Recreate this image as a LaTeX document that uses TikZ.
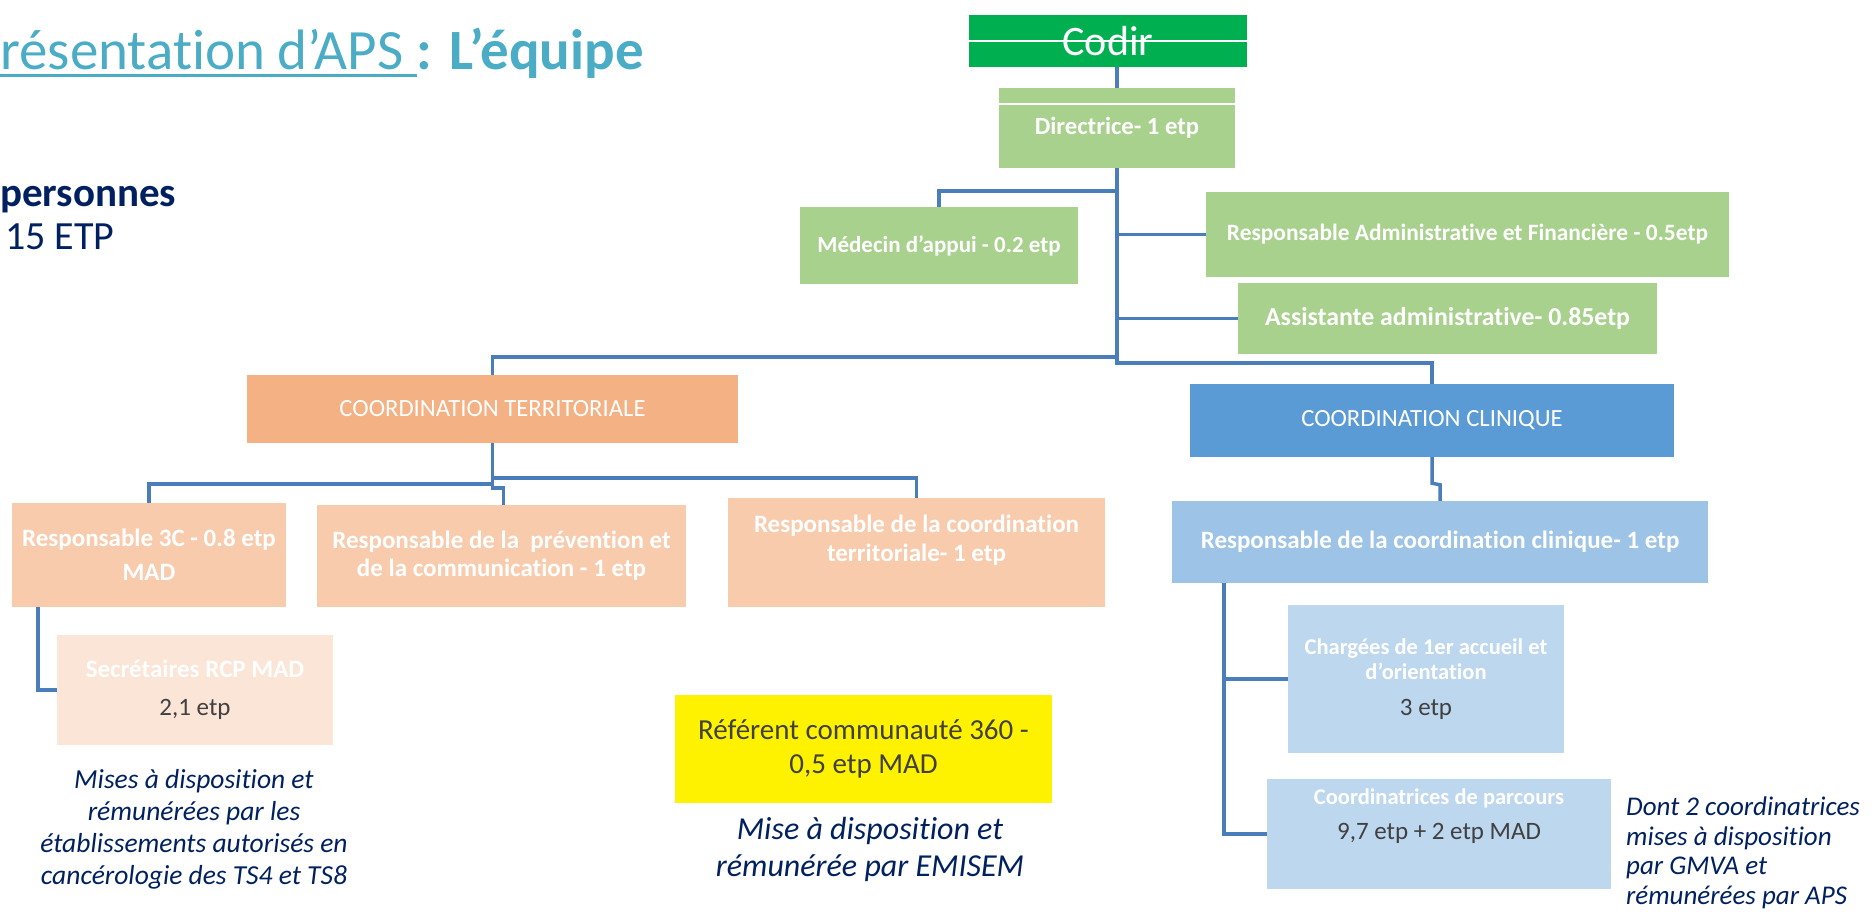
\documentclass[tikz,border=0pt]{standalone}
\usepackage{fontspec}
\setmainfont{Carlito}[Ligatures={NoCommon}]
\usetikzlibrary{calc}
\definecolor{codirgreen}{HTML}{00B050}
\definecolor{lgreen}{HTML}{A9D18E}
\definecolor{orange1}{HTML}{F4B183}
\definecolor{orange2}{HTML}{F8CBAD}
\definecolor{orange3}{HTML}{FBE5D6}
\definecolor{blue1}{HTML}{5B9BD5}
\definecolor{blue2}{HTML}{9DC3E6}
\definecolor{blue3}{HTML}{BDD7EE}
\definecolor{connblue}{HTML}{4A7EBB}
\definecolor{titleteal}{HTML}{4BACC6}
\definecolor{navy}{HTML}{002060}
\definecolor{darkgray}{HTML}{404040}
\newcommand{\myfs}[2]{\fontsize{#1}{#2}\selectfont}
\begin{document}
\begin{tikzpicture}[x=1pt,y=-1pt,
  box/.style={rectangle, draw=none, inner sep=0pt, align=center, text=white},
  gbox/.style={box, fill=lgreen, font=\myfs{23}{27}\bfseries},
  obox/.style={box, fill=orange2, font=\myfs{25}{30}\bfseries},
  bbox/.style={box, fill=blue3, font=\myfs{22.5}{25}\bfseries},
  conn/.style={draw=connblue, line width=3.5pt},
  note/.style={inner sep=0pt, text=navy, font=\myfs{27.5}{32}\itshape},
  dk/.style={text=darkgray}
]
\useasboundingbox (0,0) rectangle (1874,912);

% title
\node[anchor=base west, inner sep=0pt, text=titleteal, font=\myfs{57}{64}] (t1) at (0,70) {résentation d’APS\ \null};
\node[anchor=base west, inner sep=0pt, text=titleteal, font=\myfs{57}{64}\bfseries] (t2) at (t1.base east) {: L’équipe};
\draw[titleteal, line width=3pt] ([yshift=-6pt]t1.base west) -- ([yshift=-6pt]t1.base east);
\node[anchor=base west, inner sep=0pt, text=navy, font=\myfs{41}{48}\bfseries] (pers) at (0,207) {personnes};
\node[anchor=base west, inner sep=0pt, text=navy, font=\myfs{40}{48}] (etp) at (5,249) {15 ETP};

% boxes
\node[box, fill=codirgreen, minimum width=278, minimum height=52, font=\myfs{42}{48}] (codir) at (1108,41) {Codir};
\draw[white, line width=2.5pt] (codir.west) -- (codir.east);
\node[gbox, minimum width=236, minimum height=80, font=\myfs{24.7}{28}\bfseries] (dir) at (1117,128) {Directrice- 1 etp};
\draw[white, line width=2.5pt] ([yshift=-16pt]dir.north west) -- ([yshift=-16pt]dir.north east);
\node[gbox, minimum width=278, minimum height=77] (med) at (939,245.5) {Médecin d'appui - 0.2 etp};
\node[gbox, minimum width=523, minimum height=85, font=\myfs{23.4}{28}\bfseries] (raf) at (1467.5,234.5) {Responsable Administrative et Financière - 0.5etp};
\node[gbox, minimum width=419, minimum height=71, font=\myfs{25.8}{30}\bfseries] (asst) at (1447.5,318.5) {Assistante administrative- 0.85etp};

\node[box, fill=orange1, minimum width=491, minimum height=68, font=\myfs{24.7}{30}] (ct) at (492.5,409) {COORDINATION TERRITORIALE};
\node[box, fill=blue1, minimum width=484, minimum height=73, font=\myfs{24.7}{30}] (cc) at (1432,420.5) {COORDINATION CLINIQUE};

\node[obox, minimum width=274, minimum height=104, font=\myfs{25}{34}\bfseries] (r3c) at (149,555) {Responsable 3C - 0.8 etp\\MAD};
\node[obox, minimum width=369, minimum height=102, font=\myfs{25}{28}\bfseries] (rprev) at (501.5,556) {Responsable de la~ prévention et\\de la communication - 1 etp};
\node[obox, minimum width=377, minimum height=109] (rcoord) at (916.5,552.5) {};
\node[inner sep=0pt, align=center, text=white, font=\myfs{25}{29}\bfseries] (rcoordt) at (916.5,540) {Responsable de la coordination\\territoriale- 1 etp};
\node[box, fill=orange3, minimum width=276, minimum height=110, font=\myfs{25}{38}] (sec) at (195,690) {\bfseries Secrétaires RCP MAD\\\textcolor{darkgray}{2,1 etp}};

\node[box, fill=yellow, text=darkgray, minimum width=377, minimum height=108, font=\myfs{29}{34}] (yel) at (863.5,749) {Référent communauté 360 -\\0,5 etp MAD};

\node[box, fill=blue2, minimum width=536, minimum height=82, font=\myfs{25}{29}\bfseries] (rc) at (1440,542) {Responsable de la coordination clinique- 1 etp};
\node[bbox, minimum width=276, minimum height=148] (charg) at (1426,679) {Chargées de 1er accueil et\\d'orientation\\[11pt]\mdseries\myfs{25}{25}\textcolor{darkgray}{3 etp}};
\node[bbox, minimum width=344, minimum height=110] (coordp) at (1439,834) {};
\node[inner sep=0pt, align=center, text=white, font=\myfs{22.5}{35}\bfseries] (coordpt) at (1439,816) {Coordinatrices de parcours\\\mdseries\myfs{25}{35}\textcolor{darkgray}{9,7 etp + 2 etp MAD}};

% notes
\node[note, align=center] (noteL) at (194,829) {Mises à disposition et\\rémunérées par les\\établissements autorisés en\\cancérologie des TS4 et TS8};
\node[note, align=center, font=\myfs{32}{37}\itshape] (noteM) at (870,849) {Mise à disposition et\\rémunérée par EMISEM};
\node[note, align=left, anchor=west, font=\myfs{27}{29.5}\itshape] (noteR) at (1626,853) {Dont 2 coordinatrices\\mises à disposition\\par GMVA et\\rémunérées par APS};

% junctions
\coordinate (jmed) at (1117,191);
\coordinate (jl) at (1117,357);
\coordinate (jr) at (1432,363);
\coordinate (jctl) at (492.5,484);
\coordinate (jctr) at (492.5,478);

% connectors
\draw[conn] (dir.north |- codir.south) -- (dir.north);
\draw[conn] (dir.south) |- (jr) -- (cc.north);
\draw[conn] (jmed) -| (med.north);
\draw[conn] (raf.west -| dir.south) -- (raf.west);
\draw[conn] (asst.west -| dir.south) -- (asst.west);
\draw[conn] (jl) -| (ct.north);
\draw[conn] (ct.south) -- (jctl) -| (r3c.north);
\draw[conn] (jctl) -- ++(0,4) -| ([xshift=2pt]rprev.north);
\draw[conn] (jctr) -| (rcoord.north);
\draw[conn] ([xshift=26pt]r3c.south west) |- (sec.west);
\draw[conn] (cc.south) -- ++(0,26) -- ($(rc.north)+(0,-16)$) -- (rc.north);
\draw[conn] ([xshift=52pt]rc.south west) |- (charg.west);
\draw[conn] ([xshift=52pt]rc.south west) |- (coordp.west);
\end{tikzpicture}
\end{document}
